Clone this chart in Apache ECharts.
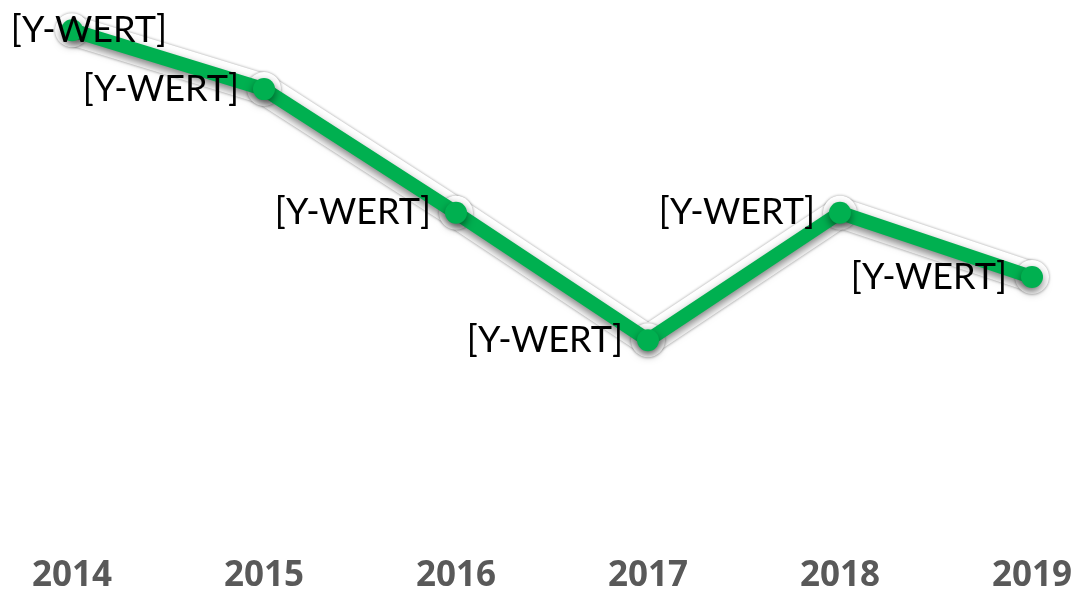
<!DOCTYPE html>
<html>
<head>
<meta charset="utf-8">
<script src="https://cdn.jsdelivr.net/npm/echarts@6/dist/echarts.min.js"></script>
<style>
html, body { margin: 0; padding: 0; background: #fff; }
#chart { width: 1079px; height: 595px; }
</style>
</head>
<body>
<div id="chart"></div>
<script>
// Jahre und Werte (Werte geschätzt, keine Achse sichtbar)
var years = ['2014', '2015', '2016', '2017', '2018', '2019'];
var values = [94.4, 83.5, 60.6, 37.0, 60.6, 48.7];
var labelText = '[Y-WERT]';

var chart = echarts.init(document.getElementById('chart'));

var seriesData = values.map(function (v, i) {
    var item = { value: v };
    // erstes Label nach rechts verschoben, sonst abgeschnitten
    if (i === 0) {
        item.label = { position: 'left', offset: [120, 0] };
    }
    return item;
});

chart.setOption({
    animation: false,
    grid: { left: 72, right: 47, top: 0, bottom: 55 },
    xAxis: {
        type: 'category',
        data: years,
        boundaryGap: false,
        axisLine: { show: false },
        axisTick: { show: false },
        splitLine: { show: false },
        axisLabel: {
            margin: 19,
            color: '#595959',
            fontSize: 35,
            fontWeight: 'bold',
            fontFamily: 'Open Sans'
        }
    },
    yAxis: {
        type: 'value',
        min: 0,
        max: 100,
        show: false
    },
    series: [
        {
            // heller Rand (Glow) unter der Linie
            type: 'line',
            data: values,
            symbol: 'circle',
            symbolSize: 34,
            silent: true,
            lineStyle: {
                width: 30,
                color: '#ffffff',
                shadowColor: 'rgba(0,0,0,0.4)',
                shadowBlur: 3
            },
            itemStyle: {
                color: '#ffffff',
                shadowColor: 'rgba(0,0,0,0.4)',
                shadowBlur: 3
            },
            z: 1
        },
        {
            type: 'line',
            data: seriesData,
            symbol: 'circle',
            symbolSize: 22,
            color: '#00B050',
            lineStyle: {
                width: 14,
                color: '#00B050',
                shadowColor: 'rgba(0,0,0,0.5)',
                shadowBlur: 8,
                shadowOffsetY: 4
            },
            itemStyle: {
                color: '#00B050',
                shadowColor: 'rgba(0,0,0,0.5)',
                shadowBlur: 8,
                shadowOffsetY: 4
            },
            label: {
                show: true,
                position: 'left',
                distance: 14,
                formatter: labelText,
                color: '#000',
                fontSize: 36,
                fontFamily: 'Lato'
            },
            z: 2
        }
    ]
});
</script>
</body>
</html>
